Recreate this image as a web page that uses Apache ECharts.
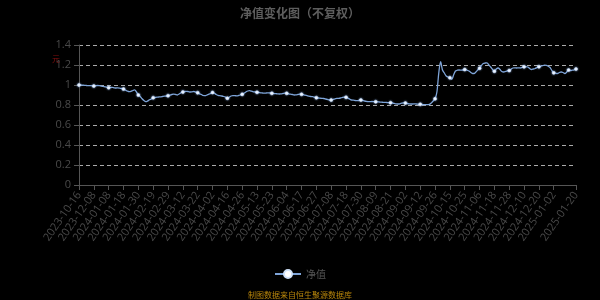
<!DOCTYPE html>
<html>
<head>
<meta charset="utf-8">
<script src="https://cdn.jsdelivr.net/npm/echarts@6/dist/echarts.min.js"></script>
<style>html,body{margin:0;padding:0;background:#000;}#c{width:600px;height:300px;}</style>
</head>
<body>
<div id="c"></div>
<script>
// Dates of the NAV observations (year-month -> trading days)
const dateDays = [
  ['2023-10', [16, 20, 27]],
  ['2023-11', [3, 10, 17, 24]],
  ['2023-12', [1, 8, 15, 22, 29]],
  ['2024-01', [2, 3, 4, 5, 8, 9, 10, 11, 12, 15, 16, 17, 18, 19, 22, 23, 24, 25, 26, 29, 30, 31]],
  ['2024-02', [1, 2, 5, 6, 7, 8, 19, 20, 21, 22, 23, 26, 27, 28, 29]],
  ['2024-03', [1, 4, 5, 6, 7, 8, 11, 12, 13, 14, 15, 18, 19, 20, 21, 22, 25, 26, 27, 28, 29, 31]],
  ['2024-04', [1, 2, 3, 8, 9, 10, 11, 12, 15, 16, 17, 18, 19, 22, 23, 24, 25, 26, 29, 30]],
  ['2024-05', [6, 7, 8, 9, 10, 13, 14, 15, 16, 17, 20, 21, 22, 23, 24, 27, 28, 29, 30, 31]],
  ['2024-06', [3, 4, 5, 6, 7, 11, 12, 13, 14, 17, 18, 19, 20, 21, 24, 25, 26, 27, 28, 30]],
  ['2024-07', [1, 2, 3, 4, 5, 8, 9, 10, 11, 12, 15, 16, 17, 18, 19, 22, 23, 24, 25, 26, 29, 30, 31]],
  ['2024-08', [1, 2, 5, 6, 7, 8, 9, 12, 13, 14, 15, 16, 19, 20, 21, 22, 23, 26, 27, 28, 29, 30]],
  ['2024-09', [2, 3, 4, 5, 6, 9, 10, 11, 12, 13, 18, 19, 20, 23, 24, 25, 26, 27, 30]],
  ['2024-10', [8, 9, 10, 11, 14, 15, 16, 17, 18, 21, 22, 23, 24, 25, 28, 29, 30, 31]],
  ['2024-11', [1, 4, 5, 6, 7, 8, 11, 12, 13, 14, 15, 18, 19, 20, 21, 22, 25, 26, 27, 28, 29]],
  ['2024-12', [2, 3, 4, 5, 6, 9, 10, 11, 12, 13, 16, 17, 18, 19, 20, 23, 24, 25, 26, 27, 30, 31]],
  ['2025-01', [2, 3, 6, 7, 8, 9, 10, 13, 14, 15, 16, 17, 20]]
];
const categories = [];
dateDays.forEach(([ym, days]) => days.forEach(d => categories.push(ym + '-' + String(d).padStart(2, '0'))));

// Unit NAV
const navValues = [
  1.000, 1.002, 0.998, 0.997, 0.995, 0.993, 0.994, 0.992, 0.990,
  0.992, 0.995, 0.993, 0.990, 0.986, 0.982, 0.978, 0.973,
  0.975, 0.976, 0.972, 0.970, 0.971, 0.968, 0.965, 0.960,
  0.950, 0.940, 0.933, 0.936, 0.945, 0.952, 0.930, 0.900,
  0.885, 0.862, 0.845, 0.833, 0.840, 0.852, 0.860, 0.873,
  0.875, 0.878, 0.880, 0.882, 0.885, 0.888, 0.890, 0.893,
  0.898, 0.905, 0.908, 0.905, 0.900, 0.910, 0.922, 0.930,
  0.935, 0.937, 0.934, 0.930, 0.932, 0.935, 0.928, 0.923,
  0.912, 0.905, 0.895, 0.893, 0.900, 0.908, 0.915, 0.925,
  0.918, 0.905, 0.897, 0.893, 0.890, 0.885, 0.878, 0.868,
  0.878, 0.890, 0.893, 0.893, 0.892, 0.895, 0.900, 0.907,
  0.918, 0.930, 0.940, 0.943, 0.938, 0.932, 0.930, 0.927,
  0.925, 0.922, 0.920, 0.918, 0.920, 0.922, 0.920, 0.917,
  0.915, 0.913, 0.912, 0.910, 0.912, 0.915, 0.918, 0.917,
  0.912, 0.908, 0.905, 0.900, 0.902, 0.905, 0.908, 0.907,
  0.903, 0.898, 0.893, 0.888, 0.885, 0.883, 0.878, 0.873,
  0.870, 0.868, 0.866, 0.865, 0.860, 0.855, 0.850, 0.850,
  0.855, 0.862, 0.866, 0.867, 0.870, 0.875, 0.878, 0.877,
  0.868, 0.858, 0.850, 0.848, 0.845, 0.843, 0.846, 0.850,
  0.845, 0.840, 0.836, 0.833, 0.834, 0.835, 0.834, 0.833,
  0.832, 0.830, 0.828, 0.827, 0.826, 0.825, 0.824, 0.823,
  0.820, 0.816, 0.812, 0.810, 0.812, 0.818, 0.822, 0.820,
  0.815, 0.812, 0.810, 0.810, 0.812, 0.810, 0.808, 0.807,
  0.805, 0.804, 0.803, 0.804, 0.806, 0.820, 0.840, 0.862,
  0.930, 1.120, 1.233, 1.150, 1.120, 1.090, 1.080, 1.073,
  1.057, 1.100, 1.140, 1.148, 1.150, 1.148, 1.150, 1.155,
  1.150, 1.143, 1.130, 1.117, 1.115, 1.130, 1.150, 1.168,
  1.195, 1.215, 1.220, 1.222, 1.200, 1.180, 1.155, 1.138,
  1.160, 1.170, 1.155, 1.135, 1.130, 1.135, 1.142, 1.145,
  1.158, 1.170, 1.172, 1.170, 1.172, 1.170, 1.176, 1.182,
  1.183, 1.180, 1.165, 1.155, 1.160, 1.165, 1.175, 1.183,
  1.188, 1.193, 1.198, 1.196, 1.188, 1.175, 1.145, 1.122,
  1.118, 1.115, 1.125, 1.130, 1.125, 1.115, 1.130, 1.150,
  1.145, 1.148, 1.152, 1.160
];

const yTicks = [0, 0.2, 0.4, 0.6, 0.8, 1, 1.2, 1.4];

const lastIdx = categories.length - 1;
const showLabel = i => (i % 8 === 0 && i <= lastIdx - 8) || i === lastIdx;
const showSymbol = i => i % 8 === 0 || i === lastIdx;

const chart = echarts.init(document.getElementById('c'), null, { renderer: 'canvas' });
chart.setOption({
  backgroundColor: '#000',
  animation: false,
  title: {
    text: '净值变化图（不复权）',
    left: 'center',
    top: 2,
    textStyle: { color: '#5e5e5e', fontSize: 12, fontWeight: 'bold', fontFamily: 'Noto Sans CJK SC' }
  },
  graphic: [{
    type: 'text', left: 52, top: 55,
    style: { text: '元', fill: '#8b1010', fontSize: 8, fontFamily: 'Noto Sans CJK SC' }
  }, {
    type: 'text', left: 'center', top: 291,
    style: { text: '制图数据来自恒生聚源数据库', fill: '#b8860b', fontSize: 8, fontFamily: 'Noto Sans CJK SC' }
  }],
  legend: {
    bottom: 16,
    left: 'center',
    itemWidth: 26,
    itemHeight: 10,
    textStyle: { color: '#555', fontSize: 10, fontFamily: 'Noto Sans CJK SC' },
    data: ['净值']
  },
  grid: { left: 79, right: 24, top: 45, bottom: 115 },
  xAxis: {
    type: 'category',
    boundaryGap: false,
    data: categories,
    axisLine: { lineStyle: { color: '#555' } },
    axisTick: { interval: i => showLabel(i), lineStyle: { color: '#555' } },
    axisLabel: {
      interval: i => showLabel(i),
      rotate: 55,
      color: '#4a4a4a',
      fontSize: 11,
      fontFamily: 'Open Sans'
    }
  },
  yAxis: {
    type: 'value',
    min: yTicks[0],
    max: yTicks[yTicks.length - 1],
    interval: 0.2,
    axisLine: { show: true, lineStyle: { color: '#555' } },
    axisTick: { show: true, lineStyle: { color: '#555' } },
    axisLabel: { color: '#4a4a4a', fontSize: 11, fontFamily: 'Open Sans' },
    splitLine: { lineStyle: { color: '#aaa', type: [4, 3] } }
  },
  series: [{
    name: '净值',
    type: 'line',
    data: navValues,
    smooth: 0.3,
    showSymbol: true,
    showAllSymbol: true,
    symbol: 'circle',
    symbolSize: (v, p) => (p && showSymbol(p.dataIndex)) ? 3 : 0,
    lineStyle: { color: '#7ea4d8', width: 1.3 },
    itemStyle: { color: '#ffffff', borderColor: '#cfe0f7', borderWidth: 0.5, shadowColor: '#9fc4ff', shadowBlur: 2 }
  }]
});
</script>
</body>
</html>
